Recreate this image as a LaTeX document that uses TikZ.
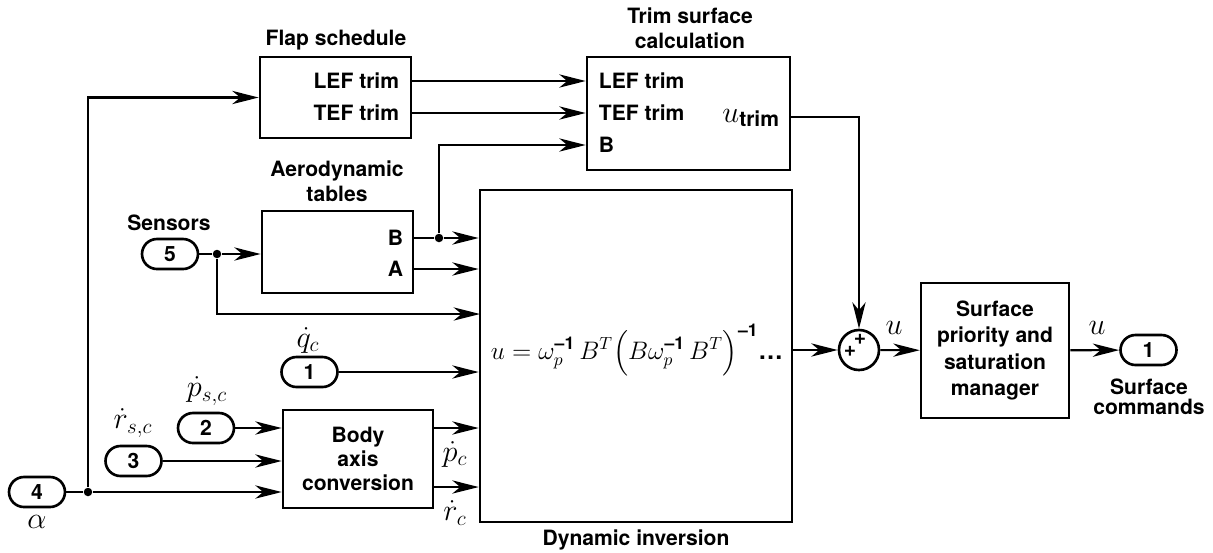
\documentclass[tikz,border=0pt]{standalone}
\usepackage{amsmath}
\usepackage{fontspec}
\setmainfont{TeX Gyre Heros}
\usetikzlibrary{arrows.meta}

\begin{document}
\begin{tikzpicture}[x=0.02cm, y=-0.02cm,
		>={Stealth[length=15pt,width=7.5pt,inset=4.5pt]},
		line width=1.2pt,
		every node/.style={font=\bfseries\fontsize{12}{14}\selectfont},
		blk/.style={draw, line width=1.5pt, inner sep=0pt},
		port/.style={draw, line width=1.5pt, rounded corners=0.3cm, minimum width=1.12cm, minimum height=0.6cm, inner sep=0pt},
		jdot/.style={circle, fill, inner sep=0pt, minimum size=0.17cm},
		lbl/.style={font=\fontsize{17}{19}\selectfont, inner sep=0pt}]
			\useasboundingbox (0,0) rectangle (1213,552);
			
			\node[blk, minimum width=3.02cm, minimum height=1.62cm] (flap) at (335.5,97.5) {};
			\node[blk, minimum width=3.02cm, minimum height=1.64cm] (aero) at (337.5,252) {};
			\node[blk, minimum width=4.06cm, minimum height=2.26cm] (trim) at (688.5,113.5) {};
			\node[blk, minimum width=6.24cm, minimum height=6.64cm] (inv) at (636,356) {};
			\node[blk, minimum width=3cm, minimum height=1.96cm, align=center, font=\bfseries\fontsize{12}{13.6}\selectfont] (body) at (358,459) {Body\\axis\\conversion};
			\node[circle, draw, line width=1.5pt, minimum size=0.8cm, inner sep=0pt] (sum) at (859,350) {};
			\node[blk, minimum width=2.96cm, minimum height=2.7cm, align=center, font=\bfseries\fontsize{12}{15}\selectfont] (mgr) at (995,350.5) {Surface\\priority and\\saturation\\manager};
			
			\node (tflap) at (336,40) {Flap schedule};
			\node[align=center] (taero) at (337,181) {Aerodynamic\\tables};
			\node[align=center] (ttrim) at (690,28) {Trim surface\\calculation};
			\node (tsens) at (169,223) {Sensors};
			\node[align=center, font=\bfseries\fontsize{12}{11.5}\selectfont] (tout) at (1149,397) {Surface\\commands};
			\node (tinv) at (636,540) {Dynamic inversion};
			
			\node[anchor=east] (fl) at (406,81) {LEF trim};
			\node[anchor=east] (ft) at (406,113) {TEF trim};
			\node[anchor=west] (tl) at (592,81) {LEF trim};
			\node[anchor=west] (tt) at (592,113) {TEF trim};
			\node[anchor=west] (tb) at (592,145) {B};
			\node[anchor=base east] (ut) at (786,122) {{\fontsize{16}{16}\selectfont$u$}\raisebox{-2.3pt}{trim}};
			\node[anchor=east] (ab) at (410,238) {B};
			\node[anchor=east] (aa) at (410,269) {A};
			
			\node[port] (p5) at (170,254) {5};
			\node[port] (p1) at (309.5,372) {1};
			\node[port] (p2) at (206,428) {2};
			\node[port] (p3) at (133.5,461) {3};
			\node[port] (p4) at (37,492) {4};
			\node[port] (po) at (1148.5,350) {1};
			
			\node[lbl] (lq) at (308,340) {$\dot q_c$};
			\node[lbl] (lps) at (207,391) {$\dot p_{s,c}$};
			\node[lbl] (lrs) at (133,423) {$\dot r_{s,c}$};
			\node[lbl] (la) at (37,522) {$\alpha$};
			\node[lbl] (lp) at (455,454) {$\dot p_c$};
			\node[lbl] (lr) at (455,513) {$\dot r_c$};
			\node[lbl] (lu1) at (894,328) {$u$};
			\node[lbl] (lu2) at (1097,328) {$u$};
			\node[lbl, font=\fontsize{14}{16}\selectfont] (eq) at (637,350) {$u = \omega_p^{\mbox{\bfseries\fontsize{10}{10}\selectfont --1}}\,B^T\Bigl(B\omega_p^{\mbox{\bfseries\fontsize{10}{10}\selectfont --1}}\,B^T\Bigr)^{\mbox{\bfseries\fontsize{10}{10}\selectfont --1}}\mbox{\bfseries\ldots}$};
			
			\node[font=\bfseries\fontsize{12}{12}\selectfont, inner sep=0pt] (pl1) at (860,339) {+};
			\node[font=\bfseries\fontsize{12}{12}\selectfont, inner sep=0pt] (pl2) at (850,351) {+};
			
			\node[jdot] (j1) at (88,492) {};
			\node[jdot] (j2) at (217,254) {};
			\node[jdot] (j3) at (439,238) {};
			\coordinate (s3) at (480,314);
			\coordinate (bp) at (433,428);
			\coordinate (br) at (433,487);
			\coordinate (ut0) at (790,117);
			
			\draw (p4) -- (j1);
			\draw[->] (j1) -- (j1 -| body.west);
			\draw[->] (j1) |- (flap.west);
			\draw[->] (p3) -- (p3 -| body.west);
			\draw[->] (p2) -- (p2 -| body.west);
			\draw[->] (bp) -- (bp -| inv.west);
			\draw[->] (br) -- (br -| inv.west);
			\draw[->] (p1) -- (p1 -| inv.west);
			\draw (p5) -- (j2);
			\draw[->] (j2) -- (j2 -| aero.west);
			\draw[->] (j2) |- (s3);
			\draw (ab -| aero.east) -- (j3);
			\draw[->] (j3) -- (j3 -| inv.west);
			\draw[->] (j3) |- (tb -| trim.west);
			\draw[->] (aa -| aero.east) -- (aa -| inv.west);
			\draw[->] (fl -| flap.east) -- (fl -| trim.west);
			\draw[->] (ft -| flap.east) -- (ft -| trim.west);
			\draw[->] (ut0) -| (sum.north);
			\draw[->] (sum -| inv.east) -- (sum.west);
			\draw[->] (sum) -- (mgr);
			\draw[->] (mgr) -- (po);
		\end{tikzpicture}
\end{document}
